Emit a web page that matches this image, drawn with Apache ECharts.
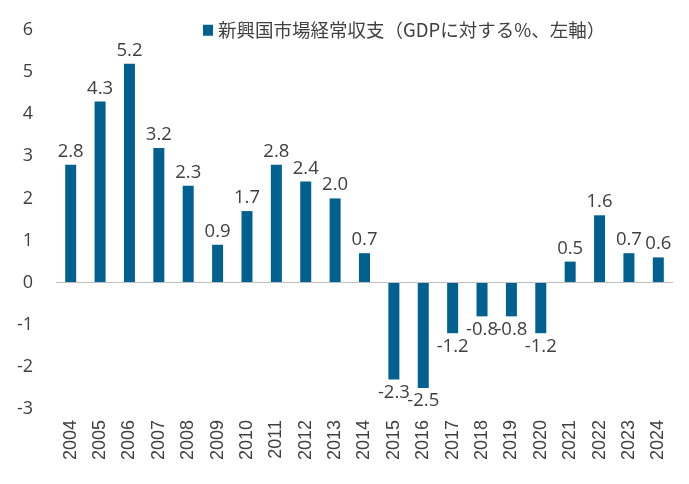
<!DOCTYPE html>
<html>
<head>
<meta charset="utf-8">
<script src="https://cdn.jsdelivr.net/npm/echarts@6/dist/echarts.min.js"></script>
<style>
html,body{margin:0;padding:0;background:#fff;}
#chart{width:689px;height:484px;}
</style>
</head>
<body>
<div id="chart"></div>
<script>
const years = ['2004','2005','2006','2007','2008','2009','2010','2011','2012','2013','2014','2015','2016','2017','2018','2019','2020','2021','2022','2023','2024'];
const currentAccount = [2.8,4.3,5.2,3.2,2.3,0.9,1.7,2.8,2.4,2.0,0.7,-2.3,-2.5,-1.2,-0.8,-0.8,-1.2,0.5,1.6,0.7,0.6];
const seriesName = '新興国市場経常収支（GDPに対する%、左軸）';
const yMin = -3, yMax = 6, yStep = 1;

const textColor = '#404040';
const numFont = '"Open Sans", "Noto Sans CJK JP", sans-serif';

const chart = echarts.init(document.getElementById('chart'), null, {renderer: 'canvas'});
chart.setOption({
  animation: false,
  backgroundColor: '#ffffff',
  legend: {
    left: 198,
    top: 16,
    itemWidth: 10,
    itemHeight: 11,
    itemGap: 10,
    icon: 'rect',
    textStyle: {color: textColor, fontSize: 18.5, fontFamily: '"Noto Sans CJK JP", sans-serif'},
    data: [seriesName]
  },
  grid: {left: 56, right: 16, top: 30, bottom: 75, containLabel: false},
  xAxis: {
    type: 'category',
    data: years,
    axisLine: {show: false},
    axisTick: {show: false},
    axisLabel: {
      rotate: 90,
      margin: 11,
      color: textColor,
      fontSize: 18,
      fontFamily: '"Liberation Sans", Arial, sans-serif'
    }
  },
  yAxis: {
    type: 'value',
    min: yMin,
    max: yMax,
    interval: yStep,
    splitLine: {show: false},
    axisLine: {show: false},
    axisTick: {show: false},
    axisLabel: {color: textColor, fontSize: 18, margin: 23, fontFamily: numFont}
  },
  series: [{
    name: seriesName,
    type: 'bar',
    barWidth: 11,
    itemStyle: {color: '#00608F'},
    data: currentAccount.map(v => ({
      value: v,
      label: {position: v < 0 ? 'bottom' : 'top'}
    })),
    label: {
      show: true,
      distance: 4,
      color: textColor,
      fontSize: 18.5,
      fontFamily: numFont,
      formatter: p => Number(p.value).toFixed(1)
    },
    markLine: {
      silent: true,
      symbol: ['none', 'none'],
      label: {show: false},
      lineStyle: {color: '#BFBFBF', width: 1, type: 'solid'},
      data: [{yAxis: 0}]
    }
  }]
});
</script>
</body>
</html>
